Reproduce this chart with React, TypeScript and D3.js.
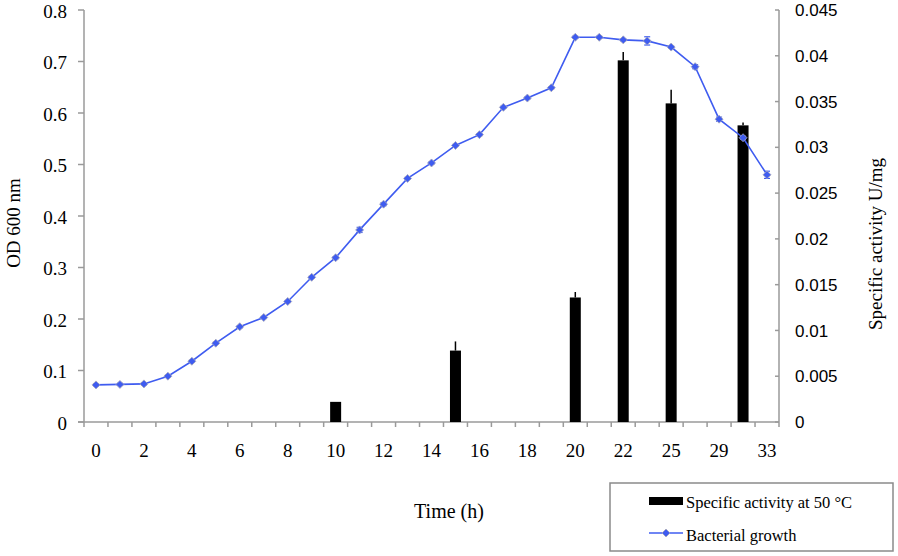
import React from "react";
import * as d3 from "d3";

const categories = ["0","1","2","3","4","5","6","7","8","9","10","11","12","13","14","15","16","17","18","19","20","21","22","24","25","27","29","31","33"];
const growth = [0.072,0.073,0.074,0.089,0.118,0.153,0.185,0.203,0.234,0.281,0.319,0.373,0.423,0.473,0.503,0.537,0.558,0.611,0.629,0.649,0.747,0.747,0.742,0.740,0.728,0.690,0.588,0.552,0.480];
const growthErr = [0.002,0.002,0.002,0.002,0.002,0.002,0.002,0.002,0.002,0.002,0.002,0.005,0.003,0.002,0.002,0.002,0.002,0.002,0.002,0.002,0.002,0.002,0.002,0.008,0.002,0.004,0.004,0.003,0.007];
const activityTimes = ["10","15","20","22","25","31"];
const activity = [0.0022,0.0078,0.0136,0.0395,0.0348,0.0324];
const activityErr = [0,0.001,0.0006,0.0009,0.0015,0.0003];
const leftTicks = [0,0.1,0.2,0.3,0.4,0.5,0.6,0.7,0.8];
const rightTicks = [0,0.005,0.01,0.015,0.02,0.025,0.03,0.035,0.04,0.045];

const W = 898, H = 556;
const X0 = 84, X1 = 779, Y0 = 422, Y1 = 10;
const BLUE = "#3f5cf0";
const AXIS = "#9a9a9a";
const SERIF = "'Liberation Serif', 'Times New Roman', serif";
const SANS = "'Liberation Sans', Arial, sans-serif";
const DIAMOND = "M0,-4 L4,0 L0,4 L-4,0Z";

export default function App() {
  const x = d3.scaleBand<string>().domain(categories).range([X0, X1]).paddingInner(0).paddingOuter(0);
  const yL = d3.scaleLinear().domain([0, 0.8]).range([Y0, Y1]);
  const yR = d3.scaleLinear().domain([0, 0.045]).range([Y0, Y1]);
  const bw = x.bandwidth();
  const cx = (c: string) => (x(c) as number) + bw / 2;
  const line = d3.line<number>().x((_, i) => cx(categories[i])).y((d) => yL(d));
  const barW = 11;

  const boundaries = categories.map((c) => x(c) as number).concat([X1]);

  return (
    <svg width={W} height={H} style={{ position: "absolute", left: 0, top: 0, background: "#fff" }}>
      {/* left axis */}
      <line x1={X0} x2={X0} y1={Y1} y2={Y0} stroke={AXIS} strokeWidth={1.5} />
      {leftTicks.map((t) => (
        <g key={"l" + t}>
          <line x1={X0 - 6} x2={X0} y1={yL(t)} y2={yL(t)} stroke={AXIS} strokeWidth={1.5} />
          <text x={67} y={yL(t)} dy="0.42em" textAnchor="end" fontFamily={SERIF} fontSize={19} fill="#000">
            {t === 0 ? "0" : t.toFixed(1)}
          </text>
        </g>
      ))}
      {/* right axis */}
      <line x1={X1} x2={X1} y1={Y1} y2={Y0} stroke={AXIS} strokeWidth={1.5} />
      {rightTicks.map((t) => (
        <g key={"r" + t}>
          <line x1={X1 - 4} x2={X1} y1={yR(t)} y2={yR(t)} stroke={AXIS} strokeWidth={1.5} />
          <text x={795} y={yR(t)} dy="0.36em" textAnchor="start" fontFamily={SANS} fontSize={17} fill="#000">
            {t === 0 ? "0" : String(+t.toFixed(3))}
          </text>
        </g>
      ))}
      {/* x axis */}
      <line x1={X0 - 6} x2={X1} y1={Y0} y2={Y0} stroke={AXIS} strokeWidth={1.5} />
      {boundaries.map((b, i) => (
        <line key={"xt" + i} x1={b} x2={b} y1={Y0} y2={Y0 + 5} stroke={AXIS} strokeWidth={1.5} />
      ))}
      {categories.map((c, i) =>
        i % 2 === 0 ? (
          <text key={"xl" + c} x={cx(c)} y={457} textAnchor="middle" fontFamily={SERIF} fontSize={19} fill="#000">
            {c}
          </text>
        ) : null
      )}
      {/* bars */}
      {activityTimes.map((c, i) => (
        <g key={"b" + c}>
          <rect x={cx(c) - barW / 2} y={yR(activity[i])} width={barW} height={Y0 - yR(activity[i])} fill="#000" />
          {activityErr[i] > 0 && (
            <line x1={cx(c)} x2={cx(c)} y1={yR(activity[i])} y2={yR(activity[i] + activityErr[i])} stroke="#000" strokeWidth={1.5} />
          )}
        </g>
      ))}
      {/* growth line */}
      <path d={line(growth) || ""} fill="none" stroke={BLUE} strokeWidth={1.6} />
      {growth.map((v, i) => {
        const px = cx(categories[i]);
        const top = yL(v + growthErr[i]);
        const bot = yL(v - growthErr[i]);
        return (
          <g key={"e" + i}>
            <line x1={px} x2={px} y1={top} y2={bot} stroke={BLUE} strokeWidth={1.2} />
            <line x1={px - 3} x2={px + 3} y1={top} y2={top} stroke={BLUE} strokeWidth={1.2} />
            <line x1={px - 3} x2={px + 3} y1={bot} y2={bot} stroke={BLUE} strokeWidth={1.2} />
          </g>
        );
      })}
      {growth.map((v, i) => (
        <path key={"m" + i} d={DIAMOND} transform={`translate(${cx(categories[i])},${yL(v)})`} fill={BLUE} stroke="#a8a8b8" strokeWidth={0.8} />
      ))}
      {/* axis titles */}
      <text transform="translate(20,223) rotate(-90)" textAnchor="middle" fontFamily={SERIF} fontSize={19} fill="#000">
        OD 600 nm
      </text>
      <text transform="translate(882,244) rotate(-90)" textAnchor="middle" fontFamily={SERIF} fontSize={19} fill="#000">
        Specific activity U/mg
      </text>
      <text x={449} y={518} textAnchor="middle" fontFamily={SERIF} fontSize={20} fill="#000">
        Time (h)
      </text>
      {/* legend */}
      <rect x={610} y={483} width={283} height={68} fill="#fff" stroke="#8a8a8a" strokeWidth={1.5} />
      <rect x={649} y={497} width={34} height={8} fill="#000" />
      <text x={686} y={508} fontFamily={SERIF} fontSize={16.5} fill="#000">
        Specific activity at 50 °C
      </text>
      <line x1={649} x2={683} y1={533} y2={533} stroke={BLUE} strokeWidth={1.6} />
      <path d={DIAMOND} transform="translate(666,533)" fill={BLUE} stroke="#a8a8b8" strokeWidth={0.8} />
      <text x={686} y={541} fontFamily={SERIF} fontSize={16.5} fill="#000">
        Bacterial growth
      </text>
    </svg>
  );
}
